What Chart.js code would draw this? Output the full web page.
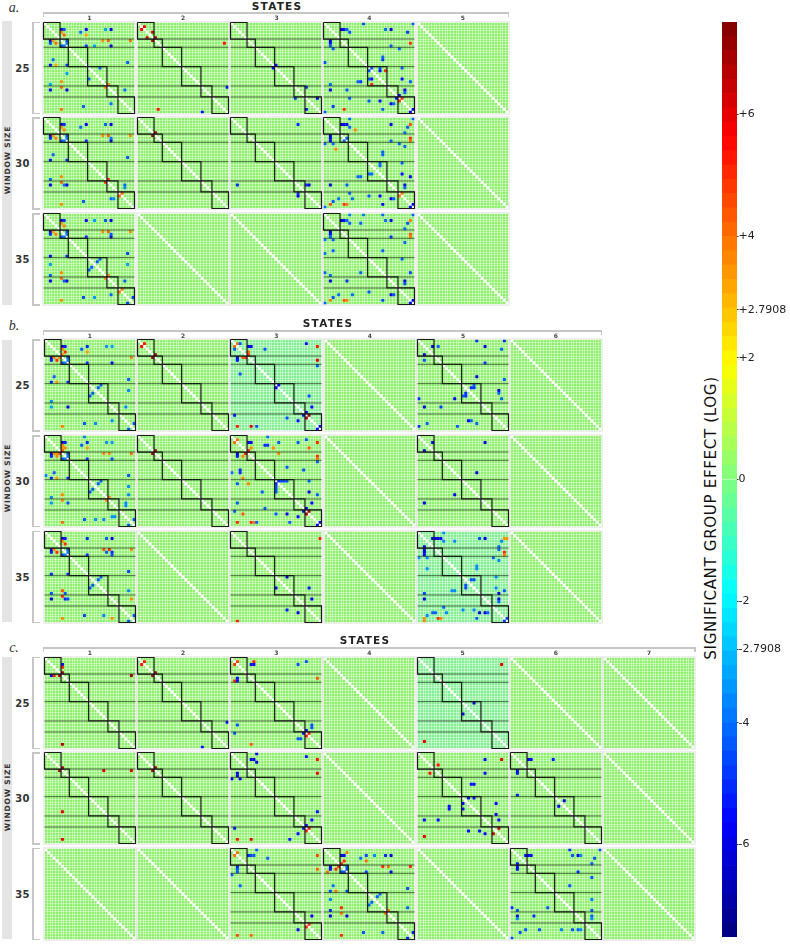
<!DOCTYPE html>
<html>
<head>
<meta charset="utf-8">
<title>Significant group effect</title>
<script src="https://cdn.jsdelivr.net/npm/chart.js@4"></script>
<style>
html, body { margin: 0; padding: 0; background: #fff; overflow: hidden; }
canvas, .txt, .rule { position: absolute; }
.txt { transform: translate(-50%, -50%); white-space: nowrap; font-family: "DejaVu Sans", sans-serif; color: #222; }
.rule { background: #c6c6c6; }
</style>
</head>
<body>
<script>
// community sizes along the matrix axis, 33 nodes in all
const communitySizes = [6, 3, 7, 7, 4, 6];

// significant cells per panel, upper triangle as [column, row, log effect]
const a_25_1 = [[6,2,-6.5],[7,2,-4.5],[6,3,3.5],[7,4,4.2],[13,3,-4],[15,2,-5.5],[15,4,3.2],[22,2,-3.2],[24,2,-5.5],[8,6,-4.5],[8,7,-3.8],[21,6,3.5],[23,6,4.2],[31,6,4],[15,8,-4.8],[18,8,-3.2],[24,8,-6],[20,16,-4.2],[30,14,-4.2],[23,22,3.8],[29,24,-4]];
const a_25_2 = [[2,1,5.8],[5,3,6.4],[6,5,7],[31,7,5.4],[32,23,-5.5]];
const a_25_3 = [[16,15,-5.5],[27,23,-5],[31,27,-6]];
const a_25_4 = [[14,0,-4.4],[32,0,-4.4],[6,2,-6.2],[7,2,-5.5],[8,2,-4.2],[9,3,-4.4],[22,2,-4],[24,2,-6],[30,3,-4.8],[24,8,-4.3],[27,9,-4.2],[31,7,5],[21,12,-4.2],[21,13,-4.8],[17,16,-4.3],[20,16,-4.3],[20,17,-5.4],[22,17,5],[28,16,-4.3],[28,20,-5.4],[31,21,-4.3],[29,24,-6],[29,25,-4.2],[28,27,5],[27,26,-5.5],[32,31,-6]];
const a_30_1 = [[6,2,-6.5],[7,2,-5],[6,3,3.6],[7,4,3.8],[13,3,-4.2],[15,2,-5.5],[22,2,-4.2],[24,2,-6],[21,6,3.6],[23,6,4.2],[31,6,3.6],[8,6,-4.5],[8,7,-3.8],[24,7,-4],[24,8,-6.2],[15,8,-5],[30,14,-4.3],[23,22,5],[29,24,-4.2],[29,25,-3.6],[28,27,4.2]];
const a_30_2 = [[6,5,7]];
const a_30_3 = [[24,2,-5],[27,24,-5],[28,24,-6]];
const a_30_4 = [[9,0,-4.2],[32,0,-4.2],[6,2,-6.4],[7,2,-6],[8,2,-5.6],[9,3,-4.2],[11,4,3.6],[24,2,-6],[30,3,-4.3],[31,2,4.5],[29,5,-4],[8,7,-4.2],[24,8,-4.3],[27,9,-4.2],[31,7,5],[31,8,4],[29,10,-4],[21,12,-4.2],[21,13,-4.2],[20,16,-4.2],[20,17,-4.2],[28,16,-4.3],[28,20,-5.5],[31,21,-5.8],[29,24,-6],[29,25,-4.2],[28,27,4],[32,31,-6]];
const a_35_1 = [[6,2,-6.5],[7,2,-5],[6,3,3.5],[7,4,3.8],[15,2,-5.5],[18,2,-3.3],[22,2,-4.3],[24,2,-6],[21,6,3.6],[23,6,4.2],[31,6,3.6],[8,6,-4.5],[8,7,-3.8],[15,8,-5],[24,7,-4.3],[24,8,-6.2],[30,14,-4.6],[30,18,-3.3],[20,16,-4.3],[19,17,-4.3],[23,22,3.8],[29,24,-4.2],[28,27,4],[32,30,-4.8]];
const a_35_4 = [[9,0,-3.8],[14,0,-3.8],[21,0,-4.2],[32,0,-4.2],[6,2,-6.2],[7,2,-5.5],[8,2,-4.2],[13,3,-4.2],[9,3,-4.2],[22,2,-4],[24,2,-6],[30,3,-4.4],[31,2,3.8],[29,5,-4],[31,7,4.4],[31,8,3.8],[29,10,-4],[21,13,-4.2],[28,16,-4.3],[31,21,-4.6],[29,24,-6],[29,25,-4.5],[24,8,-5],[32,31,-6]];
const b_25_1 = [[6,2,-6.4],[7,2,-5.2],[13,3,-4.3],[15,2,-5],[15,4,3.4],[22,2,-3.5],[24,2,-3.3],[7,4,5],[6,3,3.7],[6,5,3.6],[31,6,3.7],[8,6,-4.5],[8,7,-3.6],[15,8,-5],[24,8,-6],[30,14,-4.3],[30,18,-3.6],[20,16,-4.3],[19,17,-4.3],[29,24,-3.6],[32,30,-4.5]];
const b_25_2 = [[2,1,5.4],[6,5,7]];
const b_25_3 = [[2,1,4],[3,1,-4.3],[6,2,-6],[7,2,-5.5],[12,3,-4.4],[27,1,-5.5],[31,2,5.2],[6,5,5],[6,4,4.3],[31,7,6],[31,9,-4.4],[17,16,-5.5],[28,20,-4.4],[29,24,-5.5],[27,26,-6],[28,27,7],[32,31,-5.5]];
const b_25_5 = [[5,2,-6],[7,2,-4.3],[21,0,-5],[31,0,-5],[24,2,-6],[30,3,-4.2],[24,8,-4.8],[21,13,-6],[31,14,-4.3],[20,16,-4.3],[20,17,-5],[19,17,-5],[29,18,-6],[29,19,-4.2],[30,21,-4.2]];
const b_30_1 = [[14,0,-3.7],[6,2,-6.4],[7,2,-5.2],[13,3,-4.3],[15,2,-5],[15,4,3.4],[22,2,-3.5],[24,2,-3.4],[6,3,3.7],[7,4,3.7],[6,5,4.6],[6,4,3.5],[21,6,3.6],[23,6,3.6],[31,6,4],[8,6,-4.5],[8,7,-3.6],[15,8,-5],[24,8,-4.4],[30,14,-4.4],[30,18,-3.5],[30,21,-3.7],[20,16,-4.3],[19,17,-4.3],[23,22,3.7],[29,24,-3.6],[29,25,-3.6],[32,30,-4.5]];
const b_30_2 = [[6,5,7]];
const b_30_3 = [[13,0,-4],[2,1,4],[27,1,-4.3],[6,2,-6],[7,2,-5.5],[17,2,-4.3],[24,2,-4.3],[31,2,5],[12,3,-5],[13,3,-5],[7,4,3.7],[15,4,3.7],[28,4,4.3],[6,5,5.4],[17,6,3.7],[31,7,5],[31,8,4],[31,9,-4.3],[20,11,-4.3],[26,12,-4.3],[17,16,-5],[18,16,-4.5],[19,16,-4.5],[20,16,-4.5],[28,16,-4.3],[28,20,-6],[31,21,-4.3],[29,24,-5.5],[27,26,-6],[28,27,7],[32,31,-5.5]];
const b_30_5 = [[5,2,-6],[24,2,-6],[21,13,-6]];
const b_35_1 = [[6,2,-6.4],[7,2,-5.2],[15,2,-5],[22,2,-4.3],[24,2,-6],[7,4,5],[6,3,3.6],[21,6,4.4],[23,6,5],[31,6,3.6],[22,7,-4.3],[24,7,-5.2],[24,8,-4.5],[15,8,-5],[8,6,-4.5],[8,7,-3.6],[30,14,-4.6],[20,16,-4.3],[19,17,-4.3],[30,21,-3.7],[31,24,3.6],[32,30,-4.5]];
const b_35_3 = [[32,2,5.2],[20,16,-6],[28,20,-5.3],[29,24,-6]];
const b_35_5 = [[9,0,-3.5],[5,2,-6.2],[6,2,-6],[7,2,-6],[8,2,-5.5],[9,3,-3.6],[13,3,-3.6],[22,2,-4.5],[24,2,-6],[30,3,-3.7],[31,2,3.5],[32,2,3.5],[29,5,-4.2],[29,6,-4.2],[31,7,5],[31,8,3.8],[29,10,-3.6],[27,9,-4.2],[21,12,-3.6],[21,13,-3.6],[28,16,-3.6],[20,17,-4.5],[19,17,-4.5],[28,20,-3.6],[29,22,-6],[31,21,-4.3],[29,24,-6],[29,25,-4.3],[32,31,-4.8]];
const c_25_1 = [[6,2,-5.5],[6,3,5.2],[6,5,7],[31,6,6.8]];
const c_25_2 = [[2,1,5.3],[6,5,7],[32,23,-5.5]];
const c_25_3 = [[2,1,4.8],[8,1,5.2],[7,2,-5.5],[8,2,-5.5],[24,2,-4.4],[27,1,-4.4],[31,7,4.4],[29,24,-4.4],[29,25,-4.4],[27,26,-5.5],[28,27,5.3]];
const c_25_5 = [[30,2,6],[20,16,-6.2]];
const c_30_1 = [[6,5,7],[21,6,6],[31,6,6]];
const c_30_2 = [[6,5,7]];
const c_30_3 = [[9,0,-6],[7,2,-6],[8,2,-6],[9,3,-6],[27,1,-5.4],[31,2,5.4],[31,7,6],[31,21,-5.4],[29,24,-5.4],[27,26,-5.5],[28,27,5.3]];
const c_30_5 = [[24,2,-5.5],[30,2,6],[7,4,5.4],[24,7,-5.5],[19,11,-5.5],[20,11,-5.5],[18,16,-5.5],[20,16,-5.5],[28,18,-5.5],[28,22,-5.5],[29,24,-5.5],[29,27,6.5]];
const c_30_6 = [[6,2,-5.6],[7,2,-5.6],[15,2,-5.2],[19,17,-6]];
const c_35_3 = [[2,1,4],[9,0,-4.3],[6,2,-5.2],[7,2,-4.5],[8,2,-4.3],[13,3,-4.2],[31,2,4.6],[31,7,4.2],[29,24,-6],[28,27,5]];
const c_35_4 = [[8,1,4],[6,2,-6],[7,2,-5.5],[15,2,-4.6],[13,3,-4],[18,2,-3.6],[22,2,-5],[24,2,-6],[15,4,4],[7,4,5],[6,5,5],[21,6,5],[23,6,4],[31,6,5],[8,6,-4.4],[8,7,-4.4],[15,8,-4.6],[24,8,-6],[30,14,-4.4],[20,16,-4.2],[19,17,-4.2],[30,21,-4.2],[23,22,4],[32,30,-5.2]];
const c_35_6 = [[21,0,-5],[32,0,-4.4],[5,2,-5.5],[6,2,-5.5],[7,2,-5.5],[22,2,-4.4],[24,2,-6],[25,2,-3.6],[30,3,-4.4],[29,5,-4.4],[24,8,-5],[29,10,-4.4],[21,13,-4.4],[29,18,-3.7],[29,22,-4.4],[29,24,-4.3],[29,25,-3.6]];

const windowSizes = ['25', '30', '35'];
const tickValues = [6, 4, 2.7908, 2, 0, -2, -2.7908, -4, -6];
const tickLabels = ['+6', '+4', '+2.7908', '+2', '0', '-2', '-2.7908', '-4', '-6'];
const colorbarEdges = [-7.52,-7.285,-7.05,-6.815,-6.58,-6.345,-6.11,-5.875,-5.64,-5.405,-5.17,-4.935,-4.7,-4.465,-4.23,-3.995,-3.76,-3.525,-3.29,-3.055,-2.82,-2.585,-2.35,-2.115,-1.88,-1.645,-1.41,-1.175,-0.94,-0.705,-0.47,-0.235,0,0.235,0.47,0.705,0.94,1.175,1.41,1.645,1.88,2.115,2.35,2.585,2.82,3.055,3.29,3.525,3.76,3.995,4.23,4.465,4.7,4.935,5.17,5.405,5.64,5.875,6.11,6.345,6.58,6.815,7.05,7.285,7.52];

const figures = [
    {
        letter: 'a.', letterAt: [14, 8], statesAt: [277, 6], ruleY: 12, bandY: [21, 305], sizeLabelY: 160,
        xs: [43.4, 137.2, 230.6, 323.4, 417], ys: [21.7, 117.3, 213.3],
        rows: [
            [a_25_1, a_25_2, a_25_3, a_25_4, []],
            [a_30_1, a_30_2, a_30_3, a_30_4, []],
            [a_35_1, [], [], a_35_4, []]
        ],
        tinted: []
    },
    {
        letter: 'b.', letterAt: [14, 326], statesAt: [328, 323], ruleY: 330, bandY: [340, 622], sizeLabelY: 478,
        xs: [44, 137.3, 230.4, 324, 417.2, 510], ys: [339.3, 435, 530.7],
        rows: [
            [b_25_1, b_25_2, b_25_3, [], b_25_5, []],
            [b_30_1, b_30_2, b_30_3, [], b_30_5, []],
            [b_35_1, [], b_35_3, [], b_35_5, []]
        ],
        tinted: [b_25_3, b_35_5]
    },
    {
        letter: 'c.', letterAt: [14, 648], statesAt: [365, 640], ruleY: 647, bandY: [657, 939], sizeLabelY: 797,
        xs: [44, 137.3, 230.4, 323.5, 416.8, 510, 603.3], ys: [656.7, 752.3, 847.7],
        rows: [
            [c_25_1, c_25_2, c_25_3, [], c_25_5, [], []],
            [c_30_1, c_30_2, c_30_3, [], c_30_5, c_30_6, []],
            [[], [], c_35_3, c_35_4, [], c_35_6, []]
        ],
        tinted: [c_25_5]
    }
];

const panelSize = 91.8;
const nodeCount = communitySizes.reduce((a, b) => a + b, 0);
const effectLimit = 7.52;

function jet(value) {
    const t = (value + effectLimit) / (2 * effectLimit);
    const clamp = v => Math.round(255 * Math.max(0, Math.min(1, v)));
    const r = clamp(Math.min(4 * t - 1.5, -4 * t + 4.5));
    const g = clamp(Math.min(4 * t - 0.5, -4 * t + 3.5));
    const b = clamp(Math.min(4 * t + 0.5, -4 * t + 2.5));
    return `rgb(${r},${g},${b})`;
}

function addText(text, x, y, css) {
    const el = document.createElement('div');
    el.className = 'txt';
    el.textContent = text;
    el.style.left = x + 'px';
    el.style.top = y + 'px';
    el.style.cssText += css || '';
    document.body.appendChild(el);
}

function addRule(x, y, w, h, color) {
    const el = document.createElement('div');
    el.className = 'rule';
    el.style.cssText = `left:${x}px;top:${y}px;width:${w}px;height:${h}px`;
    if (color) el.style.background = color;
    document.body.appendChild(el);
}

const panelBackground = {
    id: 'panelBackground',
    beforeDraw(chart, args, opts) {
        const { ctx, chartArea: a } = chart;
        ctx.save();
        ctx.fillStyle = opts.color;
        ctx.fillRect(a.left, a.top, a.width, a.height);
        ctx.strokeStyle = '#dcdcdc';
        ctx.lineWidth = 1;
        ctx.strokeRect(a.left - 0.5, a.top - 0.5, a.width + 1, a.height + 1);
        ctx.restore();
    }
};

function lineDataset(points, color, width, order) {
    return {
        data: points, showLine: true, pointRadius: 0, borderColor: color, borderWidth: width,
        order: order, clip: false, tension: 0
    };
}

function drawPanel(cells, left, top, background) {
    const canvas = document.createElement('canvas');
    canvas.width = 94;
    canvas.height = 94;
    canvas.style.cssText = `left:${left - 1.2}px;top:${top - 1.2}px;width:94px;height:94px`;
    document.body.appendChild(canvas);

    const diagonal = [];
    for (let i = 0; i < nodeCount; i++) diagonal.push({ x: i + 0.5, y: i + 0.5 });

    const datasets = [{
        data: diagonal, pointStyle: 'rect', pointRadius: 2, pointBorderWidth: 0,
        pointBackgroundColor: '#fff', order: 3
    }];

    if (cells.length) {
        const marks = [];
        cells.forEach(([c, r, v]) => {
            marks.push({ x: c + 0.5, y: r + 0.5, v });
            marks.push({ x: r + 0.5, y: c + 0.5, v });
        });
        datasets.push({
            data: marks, pointStyle: 'rect', pointRadius: 2.1, pointBorderWidth: 0,
            pointBackgroundColor: marks.map(m => jet(m.v)), order: 2
        });
        let s = 0;
        communitySizes.forEach((size, i) => {
            const e = s + size;
            if (i > 0) datasets.push(lineDataset([{ x: 0, y: s }, { x: nodeCount, y: s }], 'rgba(35,55,30,0.72)', 1, 1));
            datasets.push(lineDataset([
                { x: s, y: s }, { x: e, y: s }, { x: e, y: e }, { x: s, y: e }, { x: s, y: s }
            ], '#1c1c1c', 1.2, 0));
            s = e;
        });
    }

    const axis = reverse => ({
        type: 'linear', min: 0, max: nodeCount, reverse,
        ticks: { display: false, stepSize: 1, autoSkip: false },
        grid: { color: 'rgba(255,255,255,0.42)', lineWidth: 1, drawTicks: false },
        border: { display: false },
        afterFit: scale => {
            if (scale.isHorizontal()) scale.height = 0; else scale.width = 0;
            scale.paddingTop = scale.paddingBottom = scale.paddingLeft = scale.paddingRight = 0;
        }
    });

    new Chart(canvas, {
        type: 'scatter',
        data: { datasets },
        options: {
            responsive: false,
            animation: false,
            events: [],
            layout: { padding: 1.5, autoPadding: false },
            scales: { x: axis(false), y: axis(true) },
            plugins: {
                legend: { display: false },
                tooltip: { enabled: false },
                panelBackground: { color: background }
            }
        },
        plugins: [panelBackground]
    });
}

figures.forEach(fig => {
    const lastX = fig.xs[fig.xs.length - 1] + panelSize;
    addText(fig.letter, fig.letterAt[0], fig.letterAt[1], 'font:italic 14px "Liberation Serif",serif;color:#333');
    addText('STATES', fig.statesAt[0], fig.statesAt[1], 'font-weight:bold;font-size:10.5px;letter-spacing:1.2px;color:#222');
    addRule(43, fig.ruleY, lastX - 43, 1.5);
    addRule(43, fig.ruleY, 1, 5);
    addRule(lastX - 1, fig.ruleY, 1.5, 5);
    addRule(2, fig.bandY[0], 10, fig.bandY[1] - fig.bandY[0], '#e4e4e4');
    addText('WINDOW SIZE', 7, fig.sizeLabelY, 'transform:translate(-50%,-50%) rotate(-90deg);font-weight:bold;font-size:7.5px;letter-spacing:0.8px;color:#333');

    fig.ys.forEach((y, r) => {
        addRule(32, y, 1.5, panelSize);
        addRule(32, y, 8, 1.5);
        addRule(32, y + panelSize - 1, 8, 1.5);
        addText(windowSizes[r], 22.5, y + 46, 'font-weight:bold;font-size:10px;letter-spacing:0.4px;color:#333');
        fig.rows[r].forEach((cells, c) => {
            const tint = fig.tinted.includes(cells);
            drawPanel(cells, fig.xs[c], y, tint ? '#80ee90' : '#8cf06a');
        });
    });
    fig.xs.forEach((x, c) => {
        addText(String(c + 1), x + panelSize / 2, fig.ruleY + 4.5, 'font-size:6px;font-weight:bold;color:#444');
    });
});

// colour bar, drawn as one floating bar per colour band on a shared category
const barCanvas = document.createElement('canvas');
barCanvas.width = 68;
barCanvas.height = 934;
barCanvas.style.cssText = 'left:722px;top:10px;width:68px;height:934px';
document.body.appendChild(barCanvas);

new Chart(barCanvas, {
    type: 'bar',
    data: {
        labels: ['effect'],
        datasets: colorbarEdges.slice(0, -1).map((lo, i) => ({
            data: [[lo, colorbarEdges[i + 1]]],
            backgroundColor: jet((lo + colorbarEdges[i + 1]) / 2),
            borderWidth: 0,
            grouped: false,
            barPercentage: 1,
            categoryPercentage: 1
        }))
    },
    options: {
        responsive: false,
        animation: false,
        events: [],
        layout: { padding: { top: 12, bottom: 7, left: 0, right: 0 } },
        scales: {
            x: { display: false },
            y: {
                position: 'right',
                min: -effectLimit,
                max: effectLimit,
                afterBuildTicks: scale => { scale.ticks = tickValues.map(value => ({ value })); },
                afterFit: scale => { scale.width = 53; scale.paddingTop = 0; scale.paddingBottom = 0; },
                ticks: {
                    autoSkip: false,
                    padding: 0,
                    color: '#222',
                    font: { family: '"DejaVu Sans"', size: 11 },
                    callback: value => tickLabels[tickValues.indexOf(value)]
                },
                grid: { display: true, drawOnChartArea: false, color: '#333', tickLength: 1.5 },
                border: { display: false }
            }
        },
        plugins: { legend: { display: false }, tooltip: { enabled: false } }
    }
});

addText('SIGNIFICANT GROUP EFFECT (LOG)', 711, 518, 'transform:translate(-50%,-50%) rotate(-90deg);font-size:15px;letter-spacing:0.7px;color:#111');
</script>
</body>
</html>
